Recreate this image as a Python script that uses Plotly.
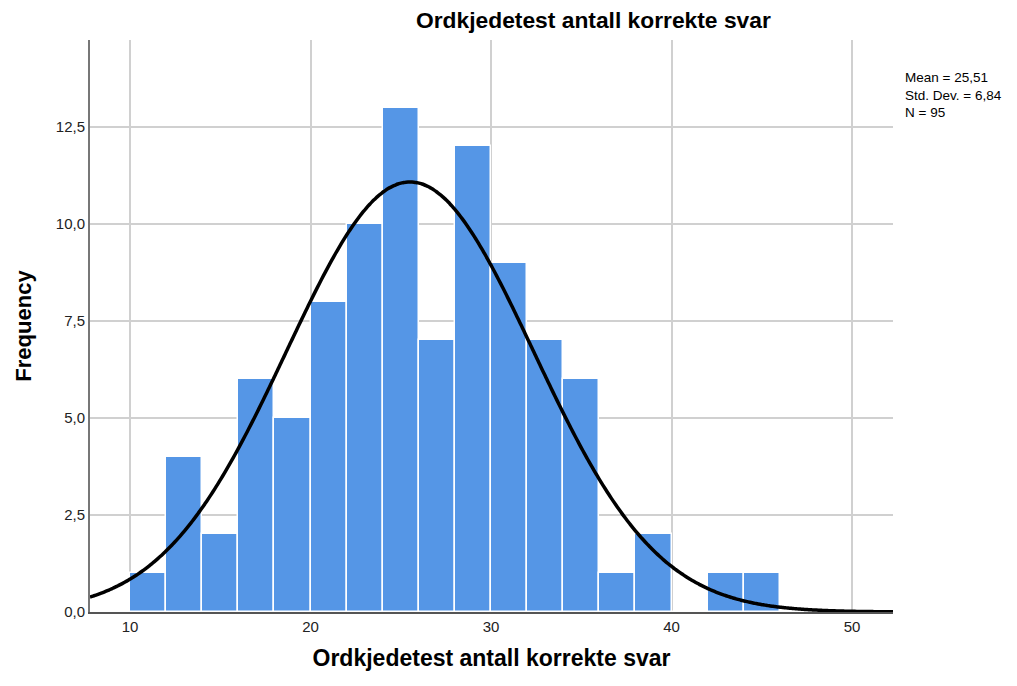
import numpy as np
import plotly.graph_objects as go

bin_left = [10, 12, 14, 16, 18, 20, 22, 24, 26, 28, 30, 32, 34, 36, 38, 40, 42, 44]
counts = [1, 4, 2, 6, 5, 8, 10, 13, 7, 12, 9, 7, 6, 1, 2, 0, 1, 1]
bin_width = 2
mean = 25.51
sd = 6.84
n = 95
x_ticks = [10, 20, 30, 40, 50]
y_ticks = [0, 2.5, 5, 7.5, 10, 12.5]
x_range = [7.78, 52.27]
y_range = [0, 14.74]

centers = [b + bin_width / 2 for b in bin_left]
xs = np.linspace(x_range[0], x_range[1], 400)
ys = n * bin_width / (sd * np.sqrt(2 * np.pi)) * np.exp(-0.5 * ((xs - mean) / sd) ** 2)

fig = go.Figure()
fig.add_trace(go.Bar(x=centers, y=counts, width=bin_width,
                     marker=dict(color="#5596e6", line=dict(color="#ffffff", width=1.5)),
                     hoverinfo="x+y"))
fig.add_trace(go.Scatter(x=xs, y=ys, mode="lines",
                         line=dict(color="#000000", width=3.5, shape="spline")))

font = "Liberation Sans, Arial, sans-serif"
fig.update_layout(
    width=1017, height=686,
    margin=dict(l=82, r=132, t=32, b=82),
    paper_bgcolor="white", plot_bgcolor="white",
    showlegend=False, bargap=0,
    separators=",.",
    font=dict(family=font, size=15, color="#222222"),
    xaxis=dict(range=x_range, tickvals=x_ticks, ticks="", showgrid=True,
               gridcolor="#d0d0d0", gridwidth=1.5, zeroline=False,
               showline=True, linecolor="#555555", linewidth=2,
               tickfont=dict(size=15, color="#222222"),
               title=dict(text="<b>Ordkjedetest antall korrekte svar</b>",
                          font=dict(size=23, color="#000000"), standoff=16)),
    yaxis=dict(range=y_range, tickvals=y_ticks, tickformat=".1f", ticks="",
               showgrid=True, gridcolor="#d0d0d0", gridwidth=1.5, zeroline=False,
               showline=True, linecolor="#777777", linewidth=2,
               tickfont=dict(size=15, color="#222222"),
               title=dict(text="<b>Frequency</b>", font=dict(size=22, color="#000000"),
                          standoff=18)),
    annotations=[
        dict(text="<b>Ordkjedetest antall korrekte svar</b>", xref="paper", yref="paper",
             x=(593 - 90) / 803, y=1, yshift=20, showarrow=False,
             xanchor="center", yanchor="middle",
             font=dict(size=22.8, color="#000000", family=font)),
        dict(text="Mean = 25,51<br>Std. Dev. = 6,84<br>N = 95", xref="paper", yref="paper",
             x=(903 - 90) / 803, y=(612 - 68) / 572, showarrow=False, xanchor="left",
             yanchor="top", align="left",
             font=dict(size=13.5, color="#000000", family=font)),
    ],
)
fig.write_html("out.html")
